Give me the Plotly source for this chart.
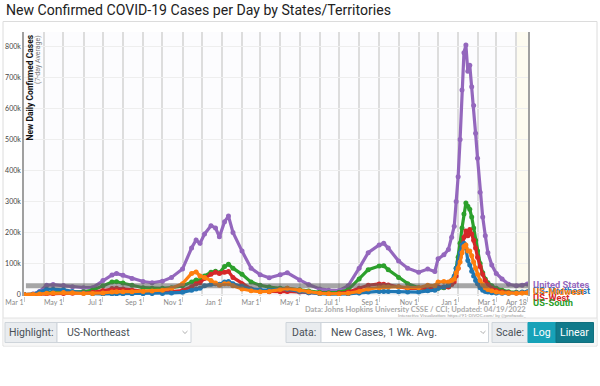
import plotly.graph_objects as go
import pandas as pd

# ---------------- data (7-day average new cases, thousands) ----------------
dates = [
    "2020-03-01", "2020-03-15", "2020-03-25", "2020-04-05", "2020-04-15", "2020-05-01", "2020-05-15", "2020-06-01", "2020-06-15", "2020-07-01",
    "2020-07-15", "2020-07-22", "2020-08-01", "2020-08-15", "2020-09-01", "2020-09-15", "2020-10-01", "2020-10-15", "2020-11-01", "2020-11-15",
    "2020-11-22", "2020-11-28", "2020-12-05", "2020-12-15", "2020-12-22", "2020-12-28", "2021-01-05", "2021-01-11", "2021-01-18", "2021-02-01",
    "2021-02-15", "2021-03-01", "2021-03-15", "2021-04-01", "2021-04-12", "2021-05-01", "2021-05-15", "2021-06-01", "2021-06-15", "2021-07-01",
    "2021-07-15", "2021-08-01", "2021-08-15", "2021-09-01", "2021-09-08", "2021-09-15", "2021-10-01", "2021-10-15", "2021-11-01", "2021-11-15",
    "2021-11-26", "2021-12-01", "2021-12-10", "2021-12-17", "2021-12-22", "2021-12-26", "2021-12-29", "2022-01-01", "2022-01-04", "2022-01-07",
    "2022-01-10", "2022-01-13", "2022-01-16", "2022-01-19", "2022-01-22", "2022-01-25", "2022-01-28", "2022-01-31", "2022-02-04", "2022-02-08",
    "2022-02-12", "2022-02-16", "2022-02-22", "2022-03-01", "2022-03-10", "2022-03-20", "2022-04-01", "2022-04-10", "2022-04-18",
]

united_states = [
    0, 1.5, 10, 30, 32, 29, 25, 22, 22, 45,
    63, 68, 62, 52, 42, 38, 43, 55, 82, 150,
    176, 165, 195, 222, 215, 186, 235, 253, 200, 140,
    85, 64, 54, 64, 70, 47, 32, 18, 14, 13,
    28, 85, 135, 160, 165, 150, 108, 85, 72, 82,
    74, 115, 128, 145, 185, 220, 300, 380, 500, 660,
    780, 805, 720, 740, 670, 610, 520, 440, 330, 250,
    190, 135, 95, 68, 50, 33, 28, 30, 34,
]
us_south = [
    0, 0.3, 2, 6.5, 7, 8, 8, 9, 14, 28,
    40, 41, 37, 30, 22, 20, 20, 22, 28, 40,
    47, 45, 60, 72, 75, 70, 90, 98, 85, 65,
    40, 30, 24, 20, 20, 15, 11, 7, 6, 7,
    15, 50, 80, 92, 93, 80, 55, 35, 22, 18,
    16, 20, 22, 25, 35, 55, 85, 120, 165, 215,
    260, 295, 285, 275, 250, 215, 175, 140, 100, 70,
    50, 38, 28, 20, 14, 9, 7, 6, 6,
]
us_west = [
    0, 0.3, 1.5, 3, 3, 3.5, 4, 5, 7, 13,
    19, 20, 18, 14, 9, 7, 7, 9, 13, 25,
    35, 38, 52, 65, 72, 68, 72, 74, 55, 35,
    18, 11, 9, 9, 10, 8, 6, 4, 3, 4,
    8, 20, 30, 34, 33, 31, 25, 20, 20, 22,
    18, 25, 24, 24, 32, 40, 60, 85, 120, 160,
    185, 205, 190, 210, 195, 175, 150, 120, 90, 65,
    45, 32, 20, 13, 9, 6, 5, 6, 7,
]
us_midwest = [
    0, 0.2, 1.5, 4, 5, 6.5, 5.5, 3.5, 3, 5,
    8, 9, 9, 9, 10, 11, 14, 20, 35, 68,
    73, 60, 55, 45, 37, 30, 35, 35, 28, 18,
    12, 9, 10, 16, 20, 14, 9, 4, 2.5, 2,
    4, 10, 18, 22, 24, 24, 25, 22, 22, 30,
    28, 40, 42, 40, 45, 50, 70, 85, 105, 135,
    155, 160, 140, 140, 125, 105, 85, 65, 45, 32,
    22, 16, 12, 8, 6, 4, 4, 5, 6,
]
us_northeast = [
    0, 0.8, 8, 17, 17, 15, 10, 5, 2.5, 2,
    2.2, 2.5, 2.5, 2.5, 2.5, 3, 3.5, 5, 7, 14,
    18, 20, 28, 33, 35, 33, 40, 42, 35, 26,
    18, 15, 14, 17, 17, 10, 6, 2.5, 1.3, 1,
    2, 5, 8, 10, 10, 10, 9, 8, 8, 12,
    14, 20, 24, 30, 45, 60, 85, 105, 135, 160,
    165, 150, 110, 95, 75, 60, 45, 35, 22, 14,
    10, 8, 6, 5, 4, 4, 6, 8, 9,
]

reference_level = 28000  # grey horizontal band

x_tick_dates = ["2020-03-01", "2020-05-01", "2020-07-01", "2020-09-01", "2020-11-01", "2021-01-01", "2021-03-01",
                "2021-05-01", "2021-07-01", "2021-09-01", "2021-11-01", "2022-01-01", "2022-03-01", "2022-04-18"]
x_tick_labels = ["Mar 1", "May 1", "Jul 1", "Sep 1", "Nov 1", "Jan 1", "Mar 1",
                 "May 1", "Jul 1", "Sep 1", "Nov 1", "Jan 1", "Mar 1", "Apr 18"]
y_tick_vals = [0, 100000, 200000, 300000, 400000, 500000, 600000, 700000, 800000]
y_tick_labels = ["0", "100k", "200k", "300k", "400k", "500k", "600k", "700k", "800k"]

# ---------------- layout helpers (pixel -> paper) ----------------
W, H = 600, 386
ML, MR, MT, MB = 24, 72, 32, 90
PW, PH = W - ML - MR, H - MT - MB


def px(x):
    return (x - ML) / PW


def py(y):
    return (H - MB - y) / PH


fig = go.Figure()

series = [
    ("United States", united_states, "#9467bd"),
    ("US-South", us_south, "#2ca02c"),
    ("US-West", us_west, "#d62728"),
    ("US-Northeast", us_northeast, "#1f77b4"),
    ("US-Midwest", us_midwest, "#ff7f0e"),
]
for name, vals, color in series:
    fig.add_trace(go.Scatter(
        x=dates, y=[v * 1000 for v in vals], mode="lines+markers", name=name,
        line=dict(color=color, width=3.2), marker=dict(size=5, color=color),
        showlegend=False, hoverinfo="skip"))

shapes = []
annotations = []

# card frame
shapes.append(dict(type="rect", xref="paper", yref="paper", x0=px(3), x1=px(597), y0=py(346), y1=py(21.5),
                   line=dict(color="#dcdcdc", width=1), fillcolor="rgba(0,0,0,0)", layer="below"))
shapes.append(dict(type="rect", xref="paper", yref="paper", x0=px(3.5), x1=px(596.5), y0=py(345.5), y1=py(318),
                   line=dict(width=0), fillcolor="#f7f7f7", layer="below"))
shapes.append(dict(type="line", xref="paper", yref="paper", x0=px(3), x1=px(597), y0=py(318), y1=py(318),
                   line=dict(color="#e2e2e2", width=1)))

# recent-data strip
shapes.append(dict(type="rect", xref="x", yref="paper", x0="2022-04-01", x1="2022-04-19", y0=0, y1=1,
                   line=dict(width=0), fillcolor="rgba(255,250,215,0.35)", layer="below"))

# grey reference band
shapes.append(dict(type="line", xref="x", yref="y", x0="2020-03-04", x1="2022-04-19",
                   y0=reference_level, y1=reference_level,
                   line=dict(color="rgba(95,95,95,0.55)", width=5), layer="above"))

# title
annotations.append(dict(text="New Confirmed COVID-19 Cases per Day by States/Territories", xref="paper", yref="paper",
                        x=px(4), y=py(10), xanchor="left", yanchor="middle", showarrow=False,
                        font=dict(family="Roboto", size=14.1, color="#222")))

# y axis title
annotations.append(dict(text="<b>New Daily Confirmed Cases</b>", xref="paper", yref="paper", x=px(29.5), y=py(33),
                        xanchor="center", yanchor="top", textangle=-90, showarrow=False,
                        font=dict(family="Roboto", size=8.5, color="#111")))
annotations.append(dict(text="(7-day Average)", xref="paper", yref="paper", x=px(37.5), y=py(33),
                        xanchor="center", yanchor="top", textangle=-90, showarrow=False,
                        font=dict(family="Roboto", size=7, color="#777")))

# end labels
end_labels = [
    ("United States", "#9467bd", 284.5),
    ("US-Northeast", "#1f77b4", 290.5),
    ("US-Midwest", "#ff7f0e", 291.5),
    ("US-West", "#d62728", 297),
    ("US-South", "#2ca02c", 302.5),
]
for text, color, yy in end_labels:
    annotations.append(dict(text="<b>%s</b>" % text, xref="paper", yref="paper", x=px(531), y=py(yy),
                            xanchor="left", yanchor="middle", showarrow=False,
                            font=dict(family="Roboto", size=9.3, color=color)))

# source
annotations.append(dict(text="<b>Data: Johns Hopkins University CSSE / CCI; Updated: 04/19/2022</b>", xref="paper",
                        yref="paper", x=px(528), y=py(309), xanchor="right", yanchor="middle", showarrow=False,
                        font=dict(family="Lato", size=7.5, color="#aaaaaa")))
annotations.append(dict(text="Interactive Visualization: https://91-DIVOC.com/ by @profwade_", xref="paper",
                        yref="paper", x=px(528), y=py(315.5), xanchor="right", yanchor="middle", showarrow=False,
                        font=dict(family="Lato", size=4.5, color="#999999")))

# controls row
def box(x0, x1, fill, border):
    shapes.append(dict(type="rect", xref="paper", yref="paper", x0=px(x0), x1=px(x1), y0=py(342.5), y1=py(322.5),
                       line=dict(color=border, width=1), fillcolor=fill))


def label(text, x, anchor="center", color="#495057", size=10.5, bold=False):
    t = "<b>%s</b>" % text if bold else text
    annotations.append(dict(text=t, xref="paper", yref="paper", x=px(x), y=py(332.5), xanchor=anchor,
                            yanchor="middle", showarrow=False, font=dict(family="Roboto", size=size, color=color)))


def chevron(xc):
    shapes.append(dict(type="path", xref="paper", yref="paper",
                       path="M %f,%f L %f,%f L %f,%f" % (px(xc - 2.5), py(331), px(xc), py(333.5), px(xc + 2.5), py(331)),
                       line=dict(color="#999", width=0.8)))


box(5, 57, "#e9ecef", "#ced4da")
box(57, 191, "#ffffff", "#ced4da")
label("Highlight:", 31)
label("US-Northeast", 65, "left")
chevron(185)

box(286, 321, "#e9ecef", "#ced4da")
box(321, 488.5, "#ffffff", "#ced4da")
label("Data:", 303.5)
label("New Cases, 1 Wk. Avg.", 329, "left")
chevron(483)

box(492, 528, "#e9ecef", "#ced4da")
box(528, 556, "#17a2b8", "#17a2b8")
box(556, 593.5, "#117a8b", "#10707f")
label("Scale:", 510)
label("Log", 542, color="#ffffff")
label("Linear", 574.5, color="#ffffff")

month_starts = [d.strftime("%Y-%m-%d") for d in pd.date_range("2020-04-01", "2022-04-01", freq="MS")]

fig.update_layout(
    width=W, height=H, margin=dict(l=ML, r=MR, t=MT, b=MB, autoexpand=False),
    paper_bgcolor="#ffffff", plot_bgcolor="#fcfcfe",
    shapes=shapes, annotations=annotations,
    xaxis=dict(type="date", range=["2020-03-01", "2022-04-19"], tickmode="array", tickvals=x_tick_dates,
               ticktext=x_tick_labels, ticklabelposition="outside left", ticks="outside", ticklen=5,
               tickcolor="#cccccc", tickfont=dict(family="Lato", size=7, color="#888"), automargin=False,
               showgrid=True, gridcolor="#dddddd", gridwidth=1.5, zeroline=False, showline=False,
               minor=dict(tickmode="array", tickvals=month_starts, showgrid=True, gridcolor="#dddddd",
                          gridwidth=1.5, ticks="")),
    yaxis=dict(range=[-4800, 847000], tickmode="array", tickvals=y_tick_vals, ticktext=y_tick_labels,
               tickfont=dict(family="Lato", size=7, color="#444"), showgrid=True, gridcolor="#eeeeee",
               gridwidth=1, zeroline=False, showline=True, linecolor="#a0a0a0", linewidth=1.5, mirror=True,
               ticks="", automargin=False),
    font=dict(family="Roboto"),
)

fig.write_html("out.html", config={"displayModeBar": False},
               post_script="document.body.style.margin='0';document.body.style.padding='0';")
